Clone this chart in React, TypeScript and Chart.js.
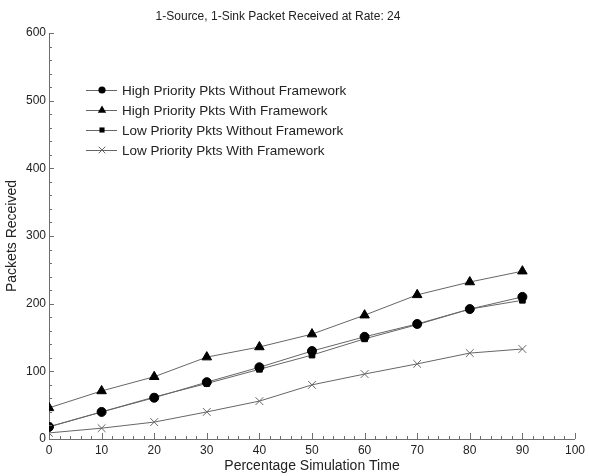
import React, { useEffect, useRef } from "react";
import { Chart, registerables } from "chart.js";

Chart.register(...registerables);

const chartTitle = "1-Source, 1-Sink Packet Received at Rate: 24";
const xAxisTitle = "Percentage Simulation Time";
const yAxisTitle = "Packets Received";
const xValues = [0, 10, 20, 30, 40, 50, 60, 70, 80, 90];
const seriesNames = [
  "High Priority Pkts Without Framework",
  "High Priority Pkts With Framework",
  "Low Priority Pkts Without Framework",
  "Low Priority Pkts With Framework",
];
const highWithout = [18, 40, 61, 84, 106, 130, 151, 170, 192, 210];
const highWith = [46, 71, 92, 121, 136, 155, 183, 213, 232, 248];
const lowWithout = [18, 40, 62, 82, 103, 124, 148, 169, 192, 205];
const lowWith = [9, 16, 25, 40, 56, 80, 96, 111, 127, 133];
const pointStyles = ["circle", "triangle", "rect", "crossRot"];
const pointRadii = [4.5, 5.5, 4, 5.5];

const FONT = "'Liberation Sans', Arial, sans-serif";
const LINE_COLOR = "#666666";
const AXIS_COLOR = "#6e6e6e";

function drawMarker(ctx: CanvasRenderingContext2D, style: string, x: number, y: number, r: number) {
  ctx.save();
  ctx.fillStyle = "#000";
  ctx.strokeStyle = style === "crossRot" ? "#666" : "#000";
  ctx.lineWidth = 1;
  ctx.beginPath();
  if (style === "circle") {
    ctx.arc(x, y, r, 0, Math.PI * 2);
    ctx.fill();
  } else if (style === "triangle") {
    ctx.moveTo(x, y - r);
    ctx.lineTo(x + r * 0.95, y + r * 0.6);
    ctx.lineTo(x - r * 0.95, y + r * 0.6);
    ctx.closePath();
    ctx.fill();
  } else if (style === "rect") {
    ctx.rect(x - r * 0.8, y - r * 0.8, r * 1.6, r * 1.6);
    ctx.fill();
  } else {
    const d = r * 0.75;
    ctx.moveTo(x - d, y - d);
    ctx.lineTo(x + d, y + d);
    ctx.moveTo(x + d, y - d);
    ctx.lineTo(x - d, y + d);
    ctx.stroke();
  }
  ctx.restore();
}

const decorPlugin = {
  id: "decor",
  afterDraw(chart: any) {
    const ctx: CanvasRenderingContext2D = chart.ctx;
    const xs = chart.scales.x;
    const ys = chart.scales.y;
    ctx.save();
    // inward tick marks
    ctx.strokeStyle = AXIS_COLOR;
    ctx.lineWidth = 1;
    ctx.beginPath();
    for (let v = 0; v <= 100; v += 2) {
      const px = Math.round(xs.getPixelForValue(v)) + 0.5;
      const len = v % 10 === 0 ? 6 : 3;
      ctx.moveTo(px, ys.bottom);
      ctx.lineTo(px, ys.bottom - len);
    }
    for (let v = 0; v <= 600; v += 20) {
      const py = Math.round(ys.getPixelForValue(v)) + 0.5;
      const len = v % 100 === 0 ? 5 : 3;
      ctx.moveTo(xs.left, py);
      ctx.lineTo(xs.left + len, py);
    }
    ctx.stroke();

    // title
    ctx.fillStyle = "#222";
    ctx.font = `12px ${FONT}`;
    ctx.textAlign = "center";
    ctx.textBaseline = "middle";
    ctx.fillText(chartTitle, 278, 17);

    // legend
    const rowY0 = 90;
    const rowGap = 20;
    ctx.font = `13.5px ${FONT}`;
    ctx.textAlign = "left";
    for (let i = 0; i < seriesNames.length; i++) {
      const y = rowY0 + i * rowGap;
      ctx.strokeStyle = LINE_COLOR;
      ctx.lineWidth = 1;
      ctx.beginPath();
      ctx.moveTo(86, y + 0.5);
      ctx.lineTo(117, y + 0.5);
      ctx.stroke();
      drawMarker(ctx, pointStyles[i], 102, y, pointRadii[i] * 0.8);
      ctx.fillStyle = "#222";
      ctx.fillText(seriesNames[i], 122, y + 1);
    }
    ctx.restore();
  },
};

export default function App() {
  const canvasRef = useRef<HTMLCanvasElement | null>(null);

  useEffect(() => {
    const canvas = canvasRef.current;
    if (!canvas) return;
    const allSeries = [highWithout, highWith, lowWithout, lowWith];
    const datasets = allSeries.map((vals, i) => ({
      label: seriesNames[i],
      data: xValues.map((x, j) => ({ x, y: vals[j] })),
      borderColor: LINE_COLOR,
      borderWidth: 1,
      backgroundColor: "#000",
      pointBackgroundColor: "#000",
      pointBorderColor: pointStyles[i] === "crossRot" ? "#666" : "#000",
      pointBorderWidth: 1,
      pointStyle: pointStyles[i],
      pointRadius: pointRadii[i],
      pointHoverRadius: pointRadii[i],
      tension: 0,
      fill: false,
    }));

    const chart = new Chart(canvas, {
      type: "line",
      data: { datasets },
      plugins: [decorPlugin],
      options: {
        responsive: false,
        animation: false,
        events: [],
        layout: { padding: { left: 0, right: 12, top: 33, bottom: 0 } },
        plugins: {
          legend: { display: false },
          title: { display: false },
          tooltip: { enabled: false },
        },
        scales: {
          x: {
            type: "linear",
            min: 0,
            max: 100,
            grid: { display: false, drawTicks: false },
            border: { display: true, color: AXIS_COLOR, width: 1 },
            ticks: {
              stepSize: 10,
              padding: 4,
              color: "#222",
              font: { family: FONT, size: 12 },
              maxRotation: 0,
            },
            title: {
              display: true,
              text: xAxisTitle,
              color: "#222",
              font: { family: FONT, size: 14 },
              padding: { top: 0, bottom: 1 },
            },
            afterFit(scale: any) {
              scale.height = 37;
            },
          },
          y: {
            type: "linear",
            min: 0,
            max: 600,
            grid: { display: false, drawTicks: false },
            border: { display: true, color: AXIS_COLOR, width: 1 },
            ticks: {
              stepSize: 100,
              padding: 3,
              color: "#222",
              font: { family: FONT, size: 12 },
            },
            title: {
              display: true,
              text: yAxisTitle,
              color: "#222",
              font: { family: FONT, size: 14 },
              padding: { top: 4, bottom: 0 },
            },
            afterFit(scale: any) {
              scale.width = 49;
            },
          },
        },
      },
    });
    return () => chart.destroy();
  }, []);

  return (
    <div style={{ position: "absolute", left: 0, top: 0, width: 589, height: 476, background: "#fff" }}>
      <canvas ref={canvasRef} width={589} height={476} style={{ display: "block" }} />
    </div>
  );
}
